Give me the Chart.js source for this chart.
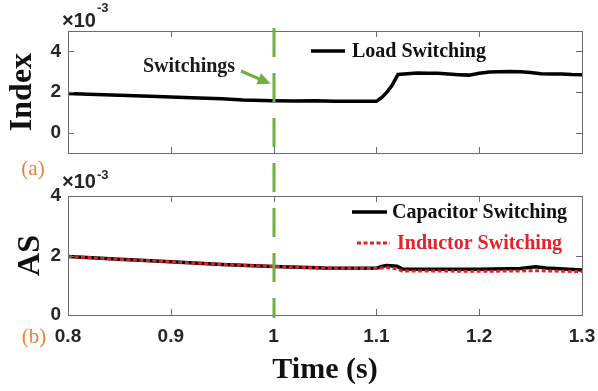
<!DOCTYPE html>
<html>
<head>
<meta charset="utf-8">
<script src="https://cdn.jsdelivr.net/npm/chart.js@4.4.1/dist/chart.umd.min.js"></script>
<style>
  html, body { margin: 0; padding: 0; background: #fff; }
  #wrap { position: relative; width: 598px; height: 391px; }
  #wrap canvas { position: absolute; left: 0; top: 0; }
</style>
</head>
<body>
<div id="wrap">
  <canvas id="topChart" width="598" height="391"></canvas>
  <canvas id="bottomChart" width="598" height="391"></canvas>
</div>
<script>
// values are in units of 1e-3 (as on the axes)
const xTicks = [0.8, 0.9, 1.0, 1.1, 1.2, 1.3];
const yTicksTop = [0, 2, 4];
const yTicksBottom = [0, 2, 4];
const switchTime = 1.0;

const timeTop = [0.80, 0.82, 0.85, 0.88, 0.90, 0.92, 0.95, 0.97, 1.00, 1.02, 1.04, 1.06, 1.08,
  1.100, 1.105, 1.110, 1.115, 1.121, 1.13, 1.14, 1.15, 1.16, 1.17, 1.18, 1.19, 1.20, 1.21,
  1.22, 1.23, 1.24, 1.25, 1.26, 1.27, 1.28, 1.29, 1.30];
const loadSwitching = [1.93, 1.89, 1.84, 1.79, 1.76, 1.72, 1.67, 1.61, 1.57, 1.56, 1.57, 1.55, 1.55,
  1.54, 1.72, 1.98, 2.30, 2.86, 2.90, 2.93, 2.92, 2.92, 2.88, 2.85, 2.83, 2.92, 2.98,
  3.00, 3.01, 2.99, 2.96, 2.90, 2.88, 2.89, 2.86, 2.85];

const timeBottom = [0.80, 0.85, 0.90, 0.95, 1.00, 1.05, 1.10, 1.105, 1.11, 1.12, 1.125, 1.15,
  1.20, 1.24, 1.255, 1.265, 1.30];
const capacitorSwitching = [1.97, 1.87, 1.79, 1.70, 1.63, 1.58, 1.57, 1.63, 1.66, 1.64, 1.55, 1.54,
  1.54, 1.56, 1.62, 1.58, 1.51];
const inductorSwitching = [1.97, 1.87, 1.79, 1.70, 1.63, 1.58, 1.56, 1.58, 1.60, 1.55, 1.48, 1.48,
  1.47, 1.48, 1.49, 1.48, 1.46];

const serif = '"Liberation Serif", "Times New Roman", serif';
const sans = '"Liberation Sans", Arial, sans-serif';
const axisGray = '#6b6b6b';
const green = '#6fb140';
const orange = '#e8833a';
const red = '#e52129';

const fixedTicks = values => scale => {
  scale.ticks = values.map(v => ({ value: v }));
};

// MATLAB style box with inward ticks on all four sides
const boxAndTicks = {
  id: 'boxAndTicks',
  afterDatasetsDraw(chart) {
    const { ctx, chartArea: a, scales: { x, y } } = chart;
    ctx.save();
    ctx.strokeStyle = axisGray;
    ctx.lineWidth = 1;
    ctx.strokeRect(a.left + 0.5, a.top + 0.5, a.right - a.left, a.bottom - a.top);
    ctx.beginPath();
    x.ticks.forEach(t => {
      const px = Math.round(x.getPixelForValue(t.value)) + 0.5;
      ctx.moveTo(px, a.top); ctx.lineTo(px, a.top + 6);
      ctx.moveTo(px, a.bottom); ctx.lineTo(px, a.bottom - 6);
    });
    y.ticks.forEach(t => {
      const py = Math.round(y.getPixelForValue(t.value)) + 0.5;
      ctx.moveTo(a.left, py); ctx.lineTo(a.left + 6, py);
      ctx.moveTo(a.right, py); ctx.lineTo(a.right - 6, py);
    });
    ctx.stroke();
    ctx.restore();
  }
};

const extras = {
  id: 'extras',
  afterDatasetsDraw(chart, args, opts) {
    const { ctx, chartArea: a, scales: { x, y } } = chart;
    ctx.save();

    // x10^-3 exponent
    ctx.fillStyle = '#262626';
    ctx.textBaseline = 'alphabetic';
    ctx.textAlign = 'left';
    ctx.font = 'bold 20px ' + sans;
    ctx.fillText('\u00d710', a.left - 6, a.top + opts.expDy);
    const w = ctx.measureText('\u00d710').width;
    ctx.font = 'bold 13px ' + sans;
    ctx.fillText('-3', a.left - 6 + w + 1, a.top + opts.supDy);

    // panel tag (a)/(b)
    ctx.fillStyle = orange;
    ctx.font = '21px ' + serif;
    ctx.textAlign = 'center';
    ctx.textBaseline = 'middle';
    ctx.fillText(opts.tag.text, opts.tag.x, opts.tag.y);

    // legend
    ctx.textAlign = 'left';
    ctx.font = 'bold 20px ' + serif;
    opts.legend.forEach(item => {
      const ds = chart.data.datasets[item.ds];
      ctx.strokeStyle = ds.borderColor;
      ctx.lineWidth = ds.borderWidth;
      ctx.setLineDash(ds.borderDash || []);
      ctx.beginPath();
      ctx.moveTo(item.x1, item.y);
      ctx.lineTo(item.x2, item.y);
      ctx.stroke();
      ctx.setLineDash([]);
      ctx.fillStyle = item.color;
      ctx.fillText(ds.label, item.tx, item.y + 1);
    });

    // "Switchings" arrow annotation
    if (opts.note) {
      const n = opts.note;
      ctx.fillStyle = '#1a1a1a';
      ctx.textAlign = 'center';
      ctx.fillText(n.text, n.tx, n.ty);
      const tipX = x.getPixelForValue(switchTime) - 3;
      const tipY = y.getPixelForValue(n.tipValue);
      const ang = Math.atan2(tipY - n.fromY, tipX - n.fromX);
      ctx.strokeStyle = green;
      ctx.fillStyle = green;
      ctx.lineWidth = 3;
      ctx.beginPath();
      ctx.moveTo(n.fromX, n.fromY);
      ctx.lineTo(tipX - 10 * Math.cos(ang), tipY - 10 * Math.sin(ang));
      ctx.stroke();
      ctx.beginPath();
      ctx.moveTo(tipX, tipY);
      ctx.lineTo(tipX - 13 * Math.cos(ang) + 6 * Math.sin(ang), tipY - 13 * Math.sin(ang) - 6 * Math.cos(ang));
      ctx.lineTo(tipX - 13 * Math.cos(ang) - 6 * Math.sin(ang), tipY - 13 * Math.sin(ang) + 6 * Math.cos(ang));
      ctx.closePath();
      ctx.fill();
    }

    // dashed switching-instant line running through both panels
    if (opts.switchLine) {
      const sx = Math.round(x.getPixelForValue(switchTime));
      const top = opts.switchLine().top - 3;
      ctx.strokeStyle = green;
      ctx.lineWidth = 3;
      ctx.setLineDash([29, 16]);
      ctx.beginPath();
      ctx.moveTo(sx, top);
      ctx.lineTo(sx, a.bottom + 3);
      ctx.stroke();
    }
    ctx.restore();
  }
};

const tickFont = { family: sans, size: 19, weight: 'bold' };
const titleFont = { family: serif, size: 32, weight: 'bold' };

function yAxis(ticks, min, max, title, titlePad) {
  return {
    type: 'linear', position: 'left', min, max,
    afterBuildTicks: fixedTicks(ticks),
    afterFit: s => { s.width = 68; },
    grid: { display: false, drawTicks: false },
    border: { display: false },
    ticks: { font: tickFont, color: '#262626', padding: 7, callback: v => String(v) },
    title: { display: true, text: title, font: titleFont, color: '#111', padding: { top: titlePad } }
  };
}

function xAxis(height, showLabels) {
  return {
    type: 'linear', min: 0.8, max: 1.3,
    afterBuildTicks: fixedTicks(xTicks),
    afterFit: s => { s.height = height; s.paddingLeft = 0; s.paddingRight = 0; },
    grid: { display: false, drawTicks: false },
    border: { display: false },
    ticks: { display: showLabels, font: tickFont, color: '#262626', padding: 10, maxRotation: 0,
      autoSkip: false, callback: v => String(+v.toFixed(1)) },
    title: { display: showLabels, text: 'Time (s)', font: { family: serif, size: 30, weight: 'bold' },
      color: '#111', padding: { bottom: 3 } }
  };
}

const topChart = new Chart(document.getElementById('topChart'), {
  type: 'line',
  data: {
    datasets: [{
      label: 'Load Switching',
      data: timeTop.map((t, i) => ({ x: t, y: loadSwitching[i] })),
      borderColor: '#000', borderWidth: 3.5, pointRadius: 0, tension: 0
    }]
  },
  options: {
    responsive: false, animation: false,
    layout: { padding: { top: 31, right: 16, left: 0, bottom: 0 } },
    scales: {
      x: xAxis(238, false),
      y: yAxis(yTicksTop, -1, 5, 'Index', 4)
    },
    plugins: {
      legend: { display: false },
      tooltip: { enabled: false },
      extras: {
        expDy: -4, supDy: -19,
        tag: { text: '(a)', x: 33, y: 169 },
        legend: [{ ds: 0, x1: 311, x2: 345, y: 51, tx: 352, color: '#111' }],
        note: { text: 'Switchings', tx: 189, ty: 67, fromX: 241, fromY: 71, tipValue: 2.4 }
      }
    }
  },
  plugins: [boxAndTicks, extras]
});

new Chart(document.getElementById('bottomChart'), {
  type: 'line',
  data: {
    datasets: [{
      label: 'Capacitor Switching',
      data: timeBottom.map((t, i) => ({ x: t, y: capacitorSwitching[i] })),
      borderColor: '#000', borderWidth: 3.5, pointRadius: 0, tension: 0, order: 2
    }, {
      label: 'Inductor Switching',
      data: timeBottom.map((t, i) => ({ x: t, y: inductorSwitching[i] })),
      borderColor: red, borderWidth: 3, borderDash: [4, 2.5], pointRadius: 0, tension: 0, order: 1
    }]
  },
  options: {
    responsive: false, animation: false,
    layout: { padding: { top: 196, right: 16, left: 0, bottom: 0 } },
    scales: {
      x: xAxis(76, true),
      y: yAxis(yTicksBottom, 0, 4, 'AS', 12)
    },
    plugins: {
      legend: { display: false },
      tooltip: { enabled: false },
      extras: {
        expDy: -8, supDy: -17,
        tag: { text: '(b)', x: 34, y: 337 },
        legend: [
          { ds: 0, x1: 352, x2: 387, y: 212, tx: 392, color: '#111' },
          { ds: 1, x1: 357, x2: 390, y: 243, tx: 397, color: red }
        ],
        switchLine: () => topChart.chartArea
      }
    }
  },
  plugins: [boxAndTicks, extras]
});
</script>
</body>
</html>
